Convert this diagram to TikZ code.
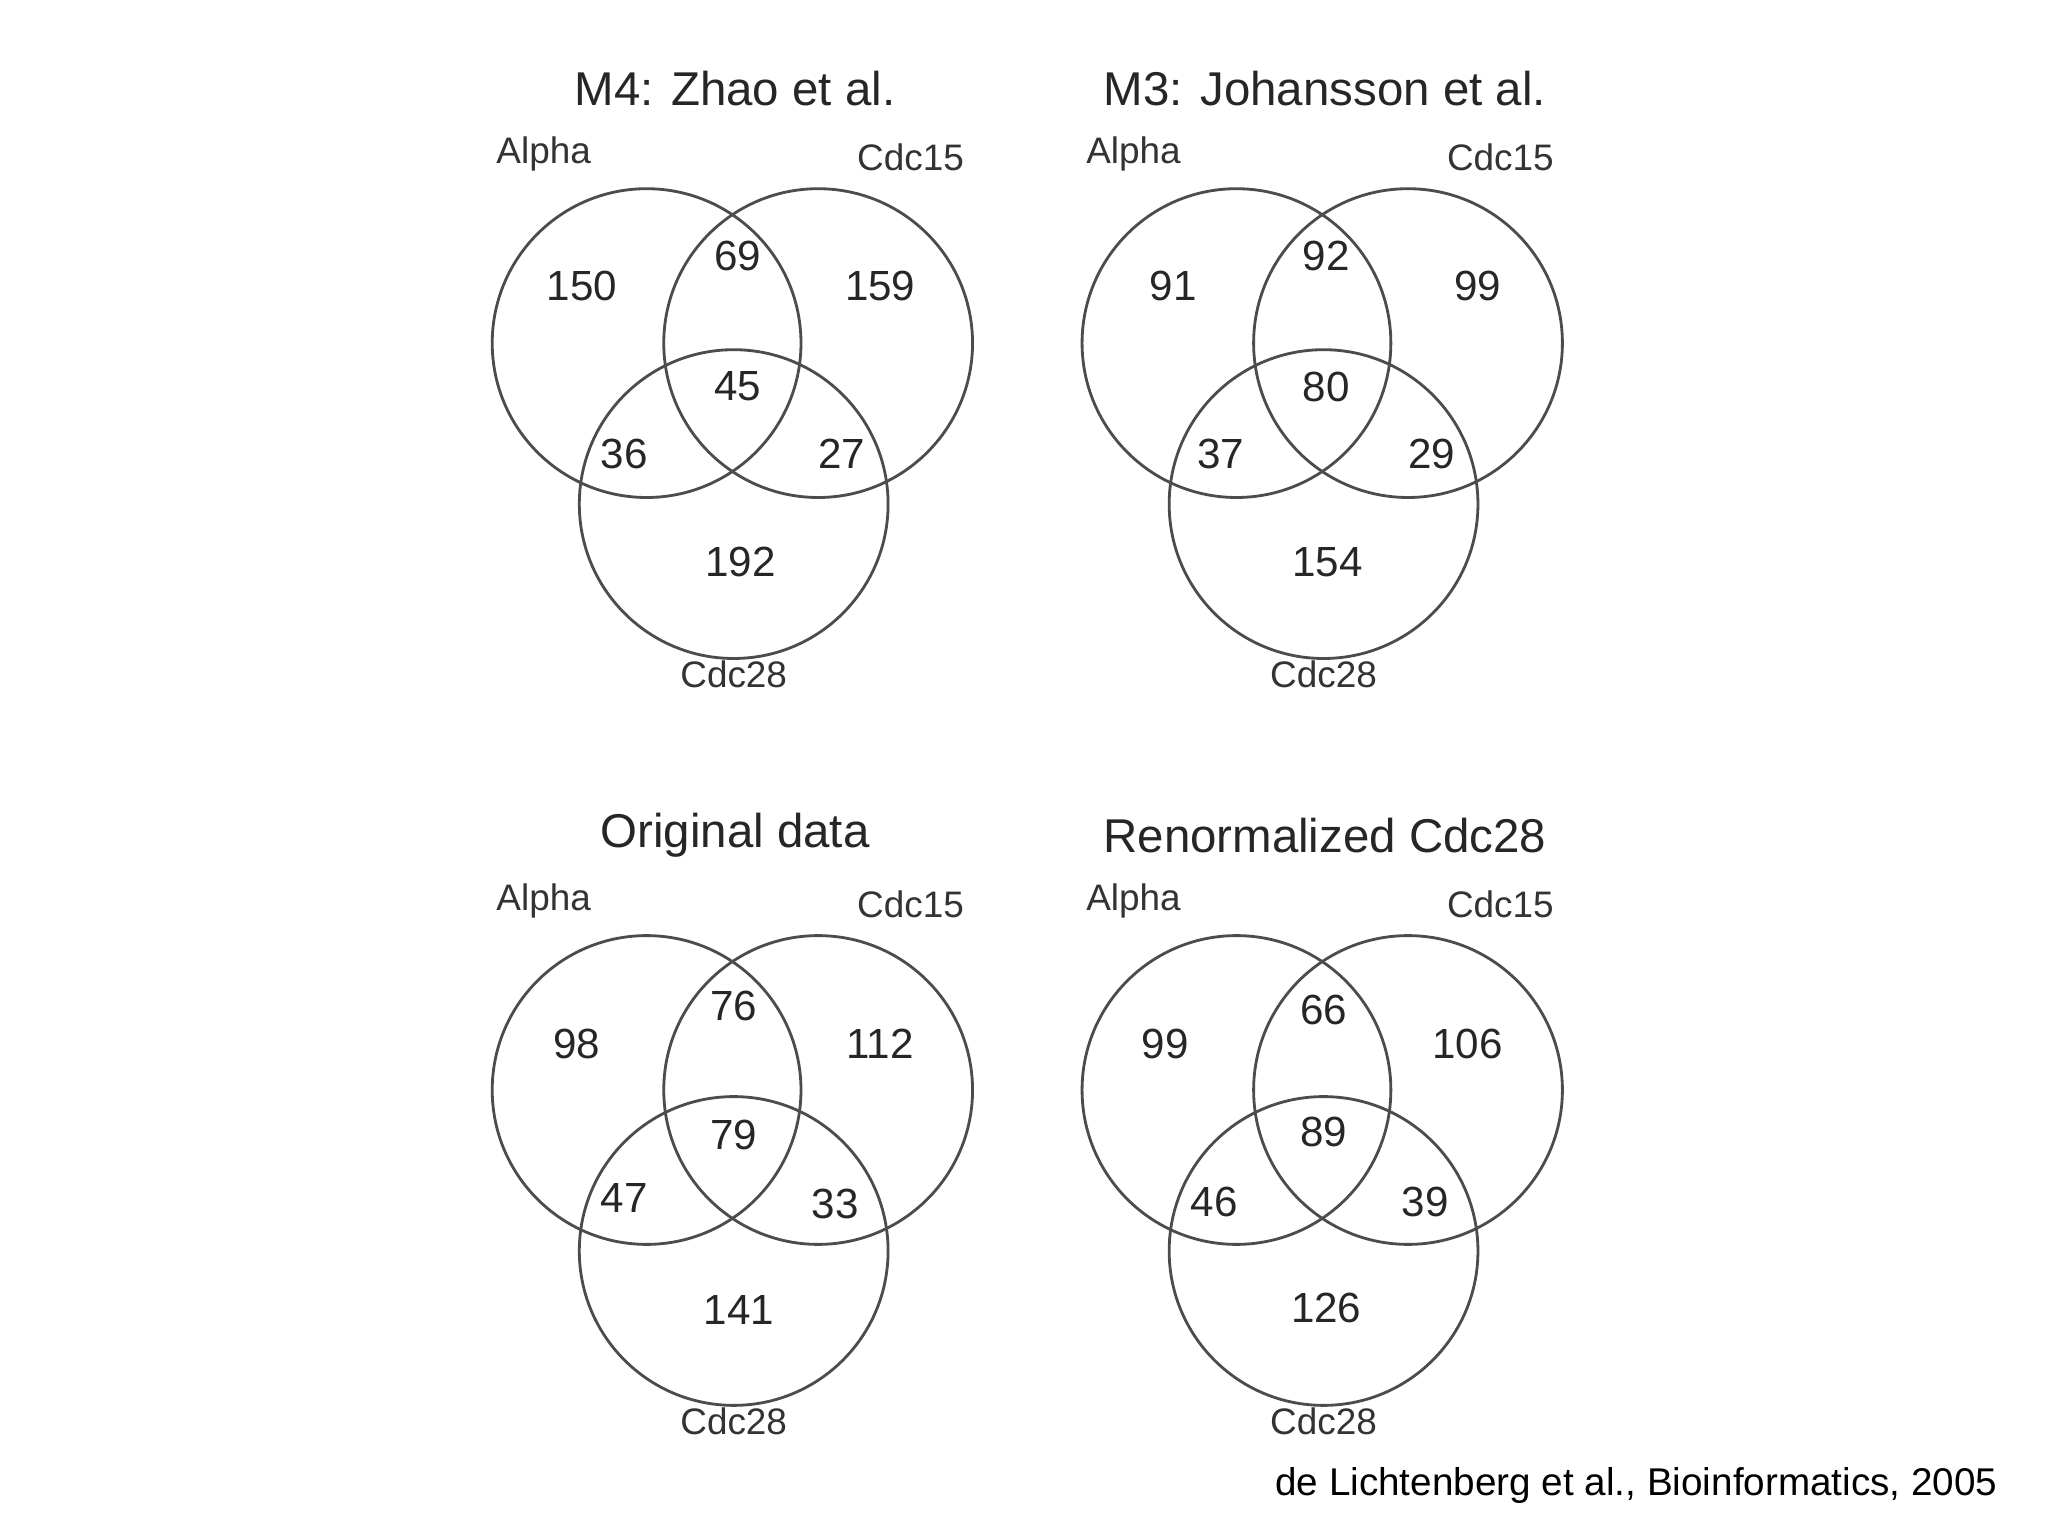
\documentclass[tikz,border=0pt]{standalone}
\usepackage{fontspec}
\setmainfont{Liberation Sans}
\begin{document}
\begin{tikzpicture}[x=0.0132cm,y=-0.0132cm,
  ring/.style={circle,draw=black!70,line width=0.8pt,minimum size=234*0.0132cm,inner sep=0},
  num/.style={font=\fontsize{12}{14}\selectfont,text=black!85},
  ttl/.style={font=\fontsize{13.5}{16}\selectfont,text=black!85},
  lab/.style={font=\fontsize{10.5}{12}\selectfont,text=black!80}]
\useasboundingbox[fill=white] (0,0) rectangle (1552,1164);
\newcommand{\venn}[4]{%
 \begin{scope}[shift={#1}]
  \node[ring] (#2A) at (490,260) {};
  \node[ring] (#2B) at (620,260) {};
  \node[ring] (#2C) at (556,382) {};
  \node[ttl] (#2t) at (557,67) {#3};
  \node[lab] (#2la) at (412,117) {Alpha};
  \node[lab] (#2lb) at (690,119) {Cdc15};
  \node[lab] (#2lc) at (556,511) {Cdc28};
  #4
 \end{scope}}
\venn{(0,0)}{p}{M4: Zhao et al.}{%
 \node[num] (p1) at (441,217) {150};\node[num] (p2) at (559,194) {69};\node[num] (p3) at (667,217) {159};
 \node[num] (p4) at (559,293) {45};\node[num] (p5) at (473,344) {36};\node[num] (p6) at (638,344) {27};
 \node[num] (p7) at (561,426) {192};}
\venn{(447,0)}{q}{M3: Johansson et al.}{%
 \node[num] (q1) at (442,217) {91};\node[num] (q2) at (558,194) {92};\node[num] (q3) at (673,217) {99};
 \node[num] (q4) at (558,293) {80};\node[num] (q5) at (478,344) {37};\node[num] (q6) at (638,344) {29};
 \node[num] (q7) at (559,426) {154};}
\venn{(0,566)}{r}{Original data}{%
 \node[num] (r1) at (437,225) {98};\node[num] (r2) at (556,196) {76};\node[num] (r3) at (667,225) {112};
 \node[num] (r4) at (556,294) {79};\node[num] (r5) at (473,342) {47};\node[num] (r6) at (633,346) {33};
 \node[num] (r7) at (560,427) {141};}
\venn{(447,566)}{s}{Renormalized Cdc28}{%
 \node[num] (s1) at (436,225) {99};\node[num] (s2) at (556,199) {66};\node[num] (s3) at (665,225) {106};
 \node[num] (s4) at (556,292) {89};\node[num] (s5) at (473,345) {46};\node[num] (s6) at (633,345) {39};
 \node[num] (s7) at (558,425) {126};}
\node[anchor=east,font=\fontsize{11}{13}\selectfont] (cr) at (1523,1126) {de Lichtenberg et al., Bioinformatics, 2005};
\end{tikzpicture}
\end{document}
